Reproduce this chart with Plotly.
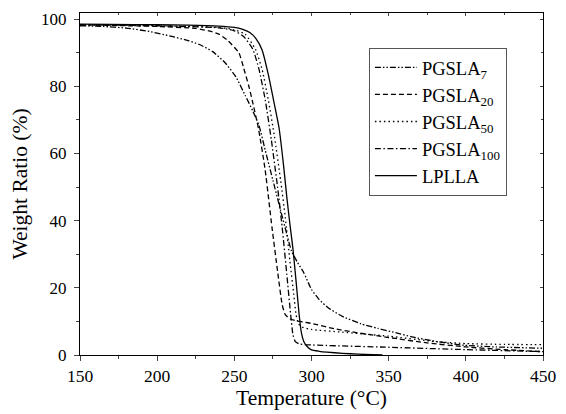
import plotly.graph_objects as go

# ---- data ----
T_LPLLA = [150, 170, 200, 220, 240, 250, 255, 260, 264, 268, 272, 276, 279, 282, 284, 286, 288, 290, 292, 293.5, 295, 297, 300, 305, 310, 320, 330, 340, 346]
W_LPLLA = [98.5, 98.4, 98.3, 98.2, 97.9, 97.5, 97.0, 96.0, 94.2, 90.8, 83.5, 74.5, 67.5, 56, 47, 39, 31.5, 22, 12, 6.5, 4.0, 2.6, 1.5, 1.1, 0.85, 0.5, 0.25, 0.08, 0]

T_7 = [150, 165, 180, 195, 208, 220, 227, 236, 244, 251, 257, 262, 266, 270, 275, 280, 284, 287, 291, 295, 300, 305, 311, 320, 332, 343, 355, 365, 380, 399, 420, 450]
W_7 = [98.0, 97.8, 97.3, 96.3, 95.0, 93.6, 92.5, 90.3, 87.0, 82.8, 77.3, 72.6, 68.3, 61, 52, 43, 36, 31, 27.5, 24.5, 19.5, 16.5, 14, 11.5, 9.3, 7.9, 6.6, 5.4, 4.1, 2.9, 2.4, 2.0]

T_20 = [150, 200, 225, 235, 240, 246, 253, 256, 259.4, 262, 265.8, 270, 274.4, 278, 281, 283, 286, 290, 295, 300, 315, 330, 350, 375, 400, 425, 450]
W_20 = [98.3, 97.8, 97.2, 96.3, 95.5, 93.5, 89.9, 85.5, 80, 75, 67, 55, 38, 25, 15, 12, 10.8, 10.2, 9.8, 9.4, 7.8, 6.6, 5.2, 3.6, 2.4, 1.6, 1.0]

T_50 = [150, 200, 240, 250, 257, 263.7, 268, 272, 276, 280, 283, 286, 288.5, 290, 291.5, 294, 300, 320, 350, 380, 400, 425, 450]
W_50 = [98.2, 98.0, 97.5, 96.8, 95.5, 91, 85, 76, 65, 52, 41, 28, 18, 12, 9.3, 8.3, 7.6, 6.8, 5.6, 4.0, 3.4, 3.15, 3.1]

T_100 = [150, 200, 240, 250, 256, 262, 266, 270, 274, 278, 281, 284, 286.5, 288, 289.5, 292, 300, 350, 400, 450]
W_100 = [98.3, 98.0, 97.4, 96.5, 94.8, 91, 85, 76, 64, 50, 38, 24, 12, 6, 4, 3.3, 3.0, 2.3, 1.6, 1.0]

X_TICKS = [150, 200, 250, 300, 350, 400, 450]
Y_TICKS = [0, 20, 40, 60, 80, 100]

FONT = "Liberation Serif"

fig = go.Figure()
series = [
    ("PGSLA<sub>7</sub>", T_7, W_7, "6px,2px,1.5px,2px,1.5px,2px"),
    ("PGSLA<sub>20</sub>", T_20, W_20, "5px,3px"),
    ("PGSLA<sub>50</sub>", T_50, W_50, "1.5px,3px"),
    ("PGSLA<sub>100</sub>", T_100, W_100, "6px,2.5px,1.5px,2.5px"),
    ("LPLLA", T_LPLLA, W_LPLLA, "solid"),
]
for name, xs, ys, dash in series:
    fig.add_trace(go.Scatter(x=xs, y=ys, mode="lines", name=name,
                             line=dict(color="black", width=1.3, dash=dash, shape="spline", smoothing=0.5)))

# invisible trace for mirrored top/right ticks
fig.add_trace(go.Scatter(x=[150, 450], y=[0, 0], xaxis="x2", yaxis="y2", mode="lines",
                         line=dict(width=0), showlegend=False, hoverinfo="skip"))

fig.update_layout(
    width=566, height=414,
    margin=dict(l=80, r=20, t=10, b=59),
    paper_bgcolor="white", plot_bgcolor="white",
    font=dict(family=FONT, size=17, color="black"),
    showlegend=True,
    legend=dict(x=0.624, y=0.898, xanchor="left", yanchor="top",
                bordercolor="#555555", borderwidth=1, bgcolor="white",
                itemwidth=42,
                font=dict(family=FONT, size=18.5), tracegroupgap=0),
    xaxis=dict(range=[150, 450], tickvals=X_TICKS, ticks="outside", ticklen=5, tickwidth=1,
               showline=True, linecolor="black", linewidth=1, showgrid=False, zeroline=False,
               minor=dict(dtick=25, ticks="outside", ticklen=3, tickwidth=1, showgrid=False),
               title=dict(text="Temperature (°C)", font=dict(family=FONT, size=21.5), standoff=1),
               tickfont=dict(family=FONT, size=17.5)),
    yaxis=dict(range=[0, 101.8], tickvals=Y_TICKS, ticks="outside", ticklen=5, tickwidth=1,
               showline=True, linecolor="black", linewidth=1, showgrid=False, zeroline=False,
               minor=dict(dtick=10, ticks="outside", ticklen=3, tickwidth=1, showgrid=False),
               ticklabelstandoff=4,
               title=dict(text="Weight Ratio (%)", font=dict(family=FONT, size=21.5), standoff=7),
               tickfont=dict(family=FONT, size=17)),
    xaxis2=dict(range=[150, 450], overlaying="x", side="top", tickvals=X_TICKS, ticks="inside",
                ticklen=3, showticklabels=False, showline=True, linecolor="black", linewidth=1,
                showgrid=False, zeroline=False,
                minor=dict(dtick=25, ticks="inside", ticklen=2, showgrid=False)),
    yaxis2=dict(range=[0, 101.8], overlaying="y", side="right", tickvals=Y_TICKS, ticks="inside",
                ticklen=3, showticklabels=False, showline=True, linecolor="black", linewidth=1,
                showgrid=False, zeroline=False,
                minor=dict(dtick=10, ticks="inside", ticklen=2, showgrid=False)),
)

fig.write_html("out.html")
